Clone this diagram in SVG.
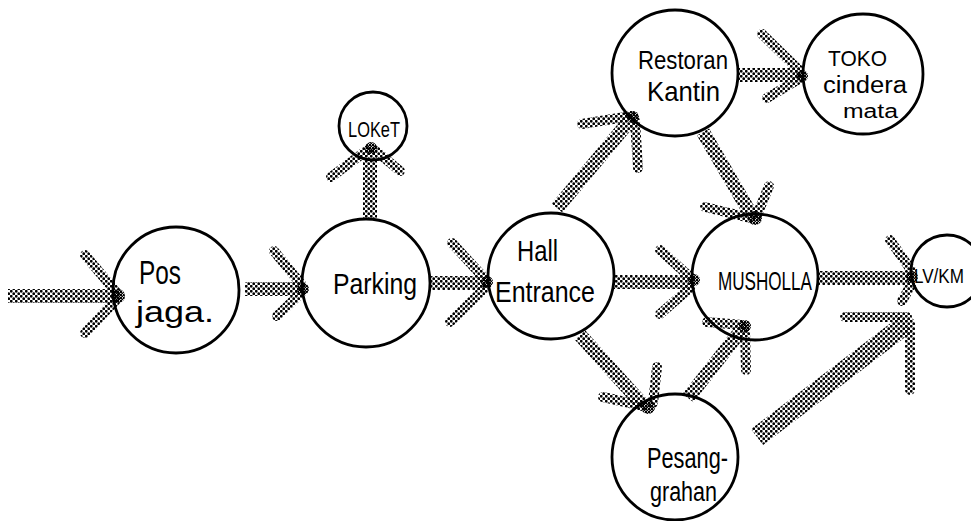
<svg xmlns="http://www.w3.org/2000/svg" width="971" height="521" viewBox="0 0 971 521">
<defs>
<pattern id="dots" width="5" height="5" patternUnits="userSpaceOnUse">
<circle cx="1.25" cy="1.25" r="1.4" fill="#000"/>
<circle cx="3.75" cy="3.75" r="1.4" fill="#000"/>
</pattern>
<pattern id="dense" width="3" height="3" patternUnits="userSpaceOnUse">
<circle cx="1" cy="1" r="1.3" fill="#000"/>
<circle cx="2.5" cy="2.5" r="1.1" fill="#000"/>
</pattern>
</defs>
<style>
.node{fill:#fff;stroke:#000;stroke-width:2.8}
.lbl{font-family:"Liberation Sans",Arial,sans-serif;fill:#000;font-weight:normal}
.shaft{stroke:url(#dots);stroke-width:14;fill:none}
.barb{stroke:url(#dots);stroke-width:10;fill:none;stroke-linecap:round}
.blob{fill:url(#dense)}
</style>
<rect width="971" height="521" fill="#fff"/>

<g id="node-pos-jaga">
<circle class="node" cx="176" cy="290" r="63"/>
<text class="lbl" x="139" y="284" font-size="34" textLength="42" lengthAdjust="spacingAndGlyphs">Pos</text>
<text class="lbl" x="136" y="322" font-size="30" textLength="78" lengthAdjust="spacingAndGlyphs">jaga.</text>
</g>
<g id="node-parking">
<circle class="node" cx="366" cy="283" r="64"/>
<text class="lbl" x="333" y="294" font-size="30" textLength="84" lengthAdjust="spacingAndGlyphs">Parking</text>
</g>
<g id="node-loket">
<circle class="node" cx="373" cy="126" r="34"/>
<text class="lbl" x="348" y="137" font-size="22" textLength="52" lengthAdjust="spacingAndGlyphs">LOKeT</text>
</g>
<g id="node-hall-entrance">
<circle class="node" cx="551" cy="276" r="63"/>
<text class="lbl" x="517" y="261" font-size="30" textLength="41" lengthAdjust="spacingAndGlyphs">Hall</text>
<text class="lbl" x="495" y="302" font-size="30" textLength="100" lengthAdjust="spacingAndGlyphs">Entrance</text>
</g>
<g id="node-restoran-kantin">
<circle class="node" cx="675" cy="73" r="63"/>
<text class="lbl" x="638" y="69" font-size="25" textLength="90" lengthAdjust="spacingAndGlyphs">Restoran</text>
<text class="lbl" x="647" y="101" font-size="28" textLength="73" lengthAdjust="spacingAndGlyphs">Kantin</text>
</g>
<g id="node-toko-cinderamata">
<circle class="node" cx="863" cy="74" r="60"/>
<text class="lbl" x="828" y="66" font-size="22" textLength="59" lengthAdjust="spacingAndGlyphs">TOKO</text>
<text class="lbl" x="823" y="93" font-size="23" textLength="84" lengthAdjust="spacingAndGlyphs">cindera</text>
<text class="lbl" x="843" y="118" font-size="20" textLength="55" lengthAdjust="spacingAndGlyphs">mata</text>
</g>
<g id="node-musholla">
<circle class="node" cx="755" cy="277" r="63"/>
<text class="lbl" x="718" y="290" font-size="26" textLength="94" lengthAdjust="spacingAndGlyphs">MUSHOLLA</text>
</g>
<g id="node-lv-km">
<circle class="node" cx="947" cy="271" r="36"/>
<text class="lbl" x="914" y="283" font-size="20" textLength="50" lengthAdjust="spacingAndGlyphs">LV/KM</text>
</g>
<g id="node-pesanggrahan">
<circle class="node" cx="675" cy="457" r="63"/>
<text class="lbl" x="647" y="468" font-size="30" textLength="81" lengthAdjust="spacingAndGlyphs">Pesang-</text>
<text class="lbl" x="650" y="501" font-size="27" textLength="67" lengthAdjust="spacingAndGlyphs">grahan</text>
</g>

<g id="connectors">
<line class="shaft" x1="8" y1="296" x2="118" y2="296"/>
<line class="barb" x1="85" y1="255" x2="116" y2="292"/>
<line class="barb" x1="85" y1="333" x2="116" y2="300"/>
<circle class="blob" cx="118" cy="296" r="7"/>
<line class="shaft" x1="245" y1="289" x2="303" y2="289"/>
<line class="barb" x1="274" y1="251" x2="301" y2="284"/>
<line class="barb" x1="277" y1="316" x2="301" y2="293"/>
<circle class="blob" cx="303" cy="289" r="6"/>
<line class="shaft" x1="370" y1="218" x2="370" y2="150"/>
<line class="barb" x1="331" y1="177" x2="366" y2="151"/>
<line class="barb" x1="400" y1="171" x2="376" y2="151"/>
<circle class="blob" cx="371" cy="148" r="6"/>
<line class="shaft" x1="430" y1="283" x2="487" y2="283"/>
<line class="barb" x1="452" y1="243" x2="485" y2="279"/>
<line class="barb" x1="450" y1="322" x2="485" y2="288"/>
<circle class="blob" cx="487" cy="282" r="6"/>
<line class="shaft" x1="614" y1="282" x2="692" y2="282"/>
<line class="barb" x1="660" y1="250" x2="690" y2="277"/>
<line class="barb" x1="660" y1="314" x2="690" y2="288"/>
<circle class="blob" cx="694" cy="280" r="6"/>
<line class="shaft" x1="557" y1="208" x2="632" y2="118"/>
<line class="barb" x1="582" y1="124" x2="631" y2="116"/>
<line class="barb" x1="638" y1="168" x2="635" y2="121"/>
<circle class="blob" cx="633" cy="117" r="6"/>
<line class="shaft" x1="737" y1="75" x2="802" y2="75"/>
<line class="barb" x1="762" y1="34" x2="799" y2="70"/>
<line class="barb" x1="767" y1="98" x2="799" y2="79"/>
<circle class="blob" cx="802" cy="76" r="6"/>
<line class="shaft" x1="703" y1="132" x2="752" y2="216"/>
<line class="barb" x1="705" y1="207" x2="750" y2="218"/>
<line class="barb" x1="769" y1="186" x2="757" y2="215"/>
<circle class="blob" cx="755" cy="218" r="7"/>
<line class="shaft" x1="580" y1="335" x2="643" y2="405"/>
<line class="barb" x1="603" y1="397" x2="643" y2="406"/>
<line class="barb" x1="657" y1="367" x2="653" y2="403"/>
<circle class="blob" cx="648" cy="407" r="7"/>
<line class="shaft" x1="688" y1="398" x2="743" y2="328"/>
<line class="barb" x1="707" y1="322" x2="742" y2="325"/>
<line class="barb" x1="746" y1="370" x2="745" y2="331"/>
<circle class="blob" cx="745" cy="326" r="6"/>
<line class="shaft" x1="817" y1="278" x2="911" y2="278"/>
<line class="barb" x1="890" y1="240" x2="911" y2="270"/>
<line class="barb" x1="902" y1="301" x2="911" y2="285"/>
<circle class="blob" cx="912" cy="277" r="6"/>
<line class="shaft" x1="757" y1="437" x2="906" y2="324" style="stroke-width:20"/>
<line class="barb" x1="845" y1="317" x2="907" y2="317"/>
<line class="barb" x1="910" y1="390" x2="910" y2="323"/>
</g>
</svg>
